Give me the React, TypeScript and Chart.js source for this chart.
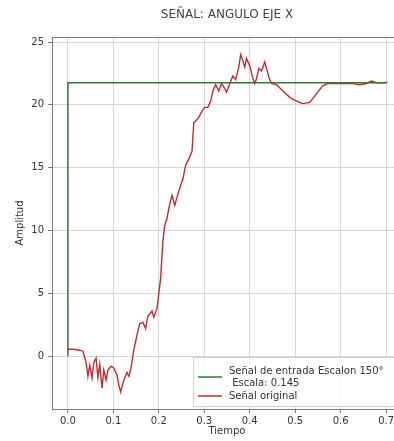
import React, { useEffect, useRef } from "react";
import { Chart, registerables } from "chart.js";

Chart.register(...registerables);

// Time axis samples (s) and measured X-axis angle amplitude
const tiempo: number[] = [
  0, 0.013, 0.026, 0.033, 0.04, 0.044, 0.048, 0.053, 0.057, 0.062, 0.066, 0.07,
  0.075, 0.079, 0.084, 0.088, 0.095, 0.101, 0.108, 0.112, 0.116, 0.123, 0.13,
  0.134, 0.138, 0.145, 0.152, 0.158, 0.165, 0.171, 0.176, 0.185, 0.189, 0.196,
  0.2, 0.204, 0.209, 0.213, 0.218, 0.224, 0.229, 0.235, 0.242, 0.248, 0.253,
  0.259, 0.266, 0.273, 0.277, 0.281, 0.288, 0.295, 0.301, 0.308, 0.314, 0.319,
  0.325, 0.332, 0.338, 0.345, 0.349, 0.356, 0.363, 0.369, 0.376, 0.38, 0.385,
  0.389, 0.393, 0.4, 0.407, 0.411, 0.415, 0.42, 0.426, 0.433, 0.437, 0.442,
  0.448, 0.459, 0.473, 0.488, 0.503, 0.516, 0.532, 0.547, 0.56, 0.571, 0.598,
  0.626, 0.642, 0.657, 0.668, 0.679, 0.692, 0.703,
];

const senalOriginal: number[] = [
  0.56, 0.55, 0.48, 0.4, -0.5, -1.6, -0.7, -1.75, -0.5, -0.15, -1.7, -0.65,
  -2.55, -1.1, -1.9, -1.1, -0.8, -0.95, -1.5, -2.3, -2.85, -1.9, -1.3, -1.6,
  -1.1, 0.5, 1.7, 2.6, 2.7, 2.2, 3.2, 3.6, 3.1, 3.8, 5.0, 6.2, 9.2, 10.4, 11.0,
  12.1, 12.8, 12.0, 12.9, 13.6, 14.1, 15.2, 15.7, 16.3, 18.6, 18.7, 19.0, 19.5,
  19.8, 19.8, 20.3, 21.1, 21.6, 21.1, 21.7, 21.3, 21.0, 21.7, 22.3, 22.0, 23.0,
  24.0, 23.5, 23.0, 23.7, 23.1, 22.1, 21.7, 22.1, 22.9, 22.7, 23.4, 22.9, 22.2,
  21.7, 21.6, 21.1, 20.6, 20.3, 20.1, 20.2, 20.9, 21.5, 21.7, 21.7, 21.7, 21.6,
  21.7, 21.9, 21.75, 21.75, 21.8,
];

// Step input: 150° scaled by 0.145
const escalonTiempo: number[] = [0, 0, 0.7];
const escalonValor: number[] = [0, 21.75, 21.75];

const xTicks: number[] = [0, 0.1, 0.2, 0.3, 0.4, 0.5, 0.6, 0.7];
const yTicks: number[] = [0, 5, 10, 15, 20, 25];

const tituloGrafico = "SEÑAL: ANGULO EJE X";
const etiquetaEntrada = ["Señal de entrada Escalon 150°", " Escala: 0.145"];
const etiquetaOriginal = "Señal original";

const FONT = "'DejaVu Sans', sans-serif";
const VERDE = "#2f7a33";
const ROJO = "#c42a2e";

// Boxed legend in the lower-right corner of the plot area
const legendaInterior = {
  id: "legendaInterior",
  afterDraw(chart: any) {
    const { ctx, chartArea } = chart;
    const x0 = 193;
    const y0 = chartArea.bottom - 52;
    const w = chartArea.right - 4 - x0;
    const h = 49;
    ctx.save();
    ctx.fillStyle = "rgba(255,255,255,0.85)";
    ctx.strokeStyle = "#d0d0d0";
    ctx.lineWidth = 1;
    ctx.beginPath();
    ctx.rect(x0 + 0.5, y0 + 0.5, w, h);
    ctx.fill();
    ctx.stroke();
    ctx.font = `10px ${FONT}`;
    ctx.textBaseline = "middle";
    ctx.fillStyle = "#333";
    const items = chart.data.datasets;
    // entry 1: two-line label
    const lbl0: string[] = items[0].label.split("\n");
    ctx.strokeStyle = items[0].borderColor;
    ctx.lineWidth = 1.5;
    ctx.beginPath();
    ctx.moveTo(x0 + 5, y0 + 20);
    ctx.lineTo(x0 + 29, y0 + 20);
    ctx.stroke();
    ctx.fillText(lbl0[0], x0 + 36, y0 + 14);
    ctx.fillText(lbl0[1], x0 + 36, y0 + 26);
    // entry 2
    ctx.strokeStyle = items[1].borderColor;
    ctx.beginPath();
    ctx.moveTo(x0 + 5, y0 + 39);
    ctx.lineTo(x0 + 29, y0 + 39);
    ctx.stroke();
    ctx.fillText(items[1].label, x0 + 36, y0 + 39);
    ctx.restore();
  },
};

// Full frame around the plot area
const marco = {
  id: "marco",
  afterDatasetsDraw(chart: any) {
    const { ctx, chartArea } = chart;
    ctx.save();
    ctx.strokeStyle = "#7a7a7a";
    ctx.lineWidth = 1;
    ctx.strokeRect(
      chartArea.left + 0.5,
      chartArea.top + 0.5,
      chartArea.right - chartArea.left,
      chartArea.bottom - chartArea.top
    );
    ctx.restore();
  },
};

export default function App() {
  const ref = useRef<HTMLCanvasElement | null>(null);

  useEffect(() => {
    if (!ref.current) return;
    const chart = new Chart(ref.current, {
      type: "line",
      data: {
        datasets: [
          {
            label: etiquetaEntrada.join("\n"),
            data: escalonTiempo.map((t, i) => ({ x: t, y: escalonValor[i] })),
            borderColor: VERDE,
            borderWidth: 1.5,
            pointRadius: 0,
            tension: 0,
          },
          {
            label: etiquetaOriginal,
            data: tiempo.map((t, i) => ({ x: t, y: senalOriginal[i] })),
            borderColor: ROJO,
            borderWidth: 1.4,
            pointRadius: 0,
            tension: 0,
          },
        ],
      },
      options: {
        animation: false,
        responsive: false,
        devicePixelRatio: 1,
        layout: { padding: { left: 0, right: 8, top: 0, bottom: 0 } },
        plugins: {
          legend: { display: false },
          tooltip: { enabled: false },
          title: {
            display: true,
            text: tituloGrafico,
            fullSize: false,
            color: "#444",
            font: { family: FONT, size: 12, weight: "normal" },
            padding: { top: 8, bottom: 14.6 },
          },
        },
        scales: {
          x: {
            type: "linear",
            min: -0.035,
            max: 0.735,
            afterFit: (s: any) => {
              s.height = 32;
            },
            afterBuildTicks: (s: any) => {
              s.ticks = xTicks.map((v) => ({ value: v }));
            },
            ticks: {
              includeBounds: false,
              padding: 2,
              color: "#333",
              font: { family: FONT, size: 10 },
              callback: (v: any) => Number(v).toFixed(1),
            },
            grid: { color: "#d6d6d6", tickColor: "#7a7a7a", tickLength: 4 },
            border: { color: "#7a7a7a" },
            title: {
              display: true,
              text: "Tiempo",
              color: "#333",
              font: { family: FONT, size: 10 },
              padding: { top: 0, bottom: 4 },
            },
          },
          y: {
            type: "linear",
            min: -4.2,
            max: 25.4,
            afterFit: (s: any) => {
              s.width = 52;
            },
            afterBuildTicks: (s: any) => {
              s.ticks = yTicks.map((v) => ({ value: v }));
            },
            ticks: {
              includeBounds: false,
              padding: 4,
              color: "#333",
              font: { family: FONT, size: 10 },
              callback: (v: any) => String(v),
            },
            grid: { color: "#d6d6d6", tickColor: "#7a7a7a", tickLength: 4 },
            border: { color: "#7a7a7a" },
            title: {
              display: true,
              text: "Amplitud",
              color: "#333",
              font: { family: FONT, size: 10 },
              padding: { top: 14, bottom: 0 },
            },
          },
        },
      },
      plugins: [marco, legendaInterior],
    });
    return () => chart.destroy();
  }, []);

  return (
    <div
      style={{
        position: "fixed",
        left: 0,
        top: 0,
        width: 394,
        height: 441,
        overflow: "hidden",
        background: "#fff",
      }}
    >
      <canvas ref={ref} width={410} height={441} style={{ display: "block" }} />
    </div>
  );
}
